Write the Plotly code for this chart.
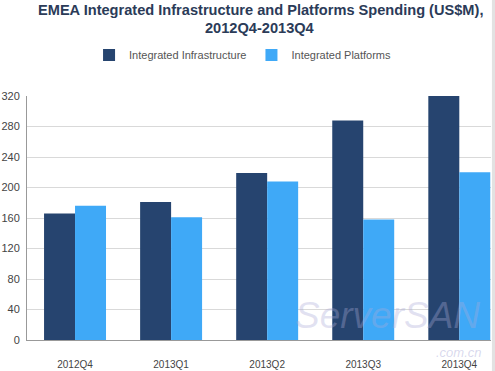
import plotly.graph_objects as go

categories = ["2012Q4", "2013Q1", "2013Q2", "2013Q3", "2013Q4"]
infrastructure = [166, 181, 219, 288, 320]
platforms = [176, 161, 208, 158, 220]
y_ticks = [0, 40, 80, 120, 160, 200, 240, 280, 320]
title_lines = ["EMEA Integrated Infrastructure and Platforms Spending (US$M),", "2012Q4-2013Q4"]

fig = go.Figure()
fig.add_trace(go.Bar(x=categories, y=infrastructure, name="Integrated Infrastructure",
                     marker=dict(color="#26446f", line=dict(width=0))))
fig.add_trace(go.Bar(x=categories, y=platforms, name="Integrated Platforms",
                     marker=dict(color="#3fa9f7", line=dict(width=0))))

fig.update_layout(
    width=495, height=371,
    margin=dict(l=27, r=4, t=96, b=31, autoexpand=False),
    paper_bgcolor="white", plot_bgcolor="white",
    barmode="group", bargap=0.355, bargroupgap=0,
    font=dict(family="Arial, Liberation Sans, sans-serif", color="#555555"),
    legend=dict(orientation="h", x=0.49, xanchor="center", xref="container",
                y=0.852, yanchor="middle", yref="container",
                font=dict(size=11, color="#555555"), itemwidth=30, traceorder="normal"),
    showlegend=True,
)
fig.update_xaxes(range=[-0.5, 4.33], showline=True, linecolor="#999999", linewidth=1,
                 ticks="", tickfont=dict(size=10, color="#444444"), ticklabelstandoff=15,
                 showgrid=False, automargin=False)
fig.update_yaxes(range=[0, 320], tickvals=y_ticks, showline=True, linecolor="#999999", linewidth=1,
                 gridcolor="#d9d9d9", gridwidth=1, zeroline=False, automargin=False,
                 tickfont=dict(size=11, color="#444444"), ticklabelstandoff=4)

# title lines
for i, line in enumerate(title_lines):
    fig.add_annotation(text="<b>" + line + "</b>", xref="paper", yref="paper",
                       x=(260 - 27) / 464, y=1 + (96 - (10 + 18 * i)) / 244,
                       xanchor="center", yanchor="middle", showarrow=False,
                       font=dict(size=14.6, color="#2b3b58", family="Arial, Liberation Sans, sans-serif"))

# light gray strip at right edge
fig.add_shape(type="rect", xref="paper", yref="paper", x0=1.002, x1=1.02, y0=-0.2, y1=1.5,
              fillcolor="#e2e2e2", line=dict(width=0), layer="above")

# watermark
fig.add_annotation(text="ServerSAN", xref="paper", yref="paper", x=(293 - 27) / 464, y=0.01,
                   xanchor="left", yanchor="bottom", showarrow=False,
                   font=dict(size=37, color="rgba(170,170,215,0.35)", family="Arial", style="italic"))
fig.add_annotation(text=".com.cn", xref="paper", yref="paper", x=0.985, y=-0.012,
                   xanchor="right", yanchor="top", showarrow=False,
                   font=dict(size=13, color="rgba(170,170,215,0.45)", family="Arial", style="italic"))

fig.write_html("out.html", config={"displayModeBar": False},
               post_script="document.body.style.margin='0';")
